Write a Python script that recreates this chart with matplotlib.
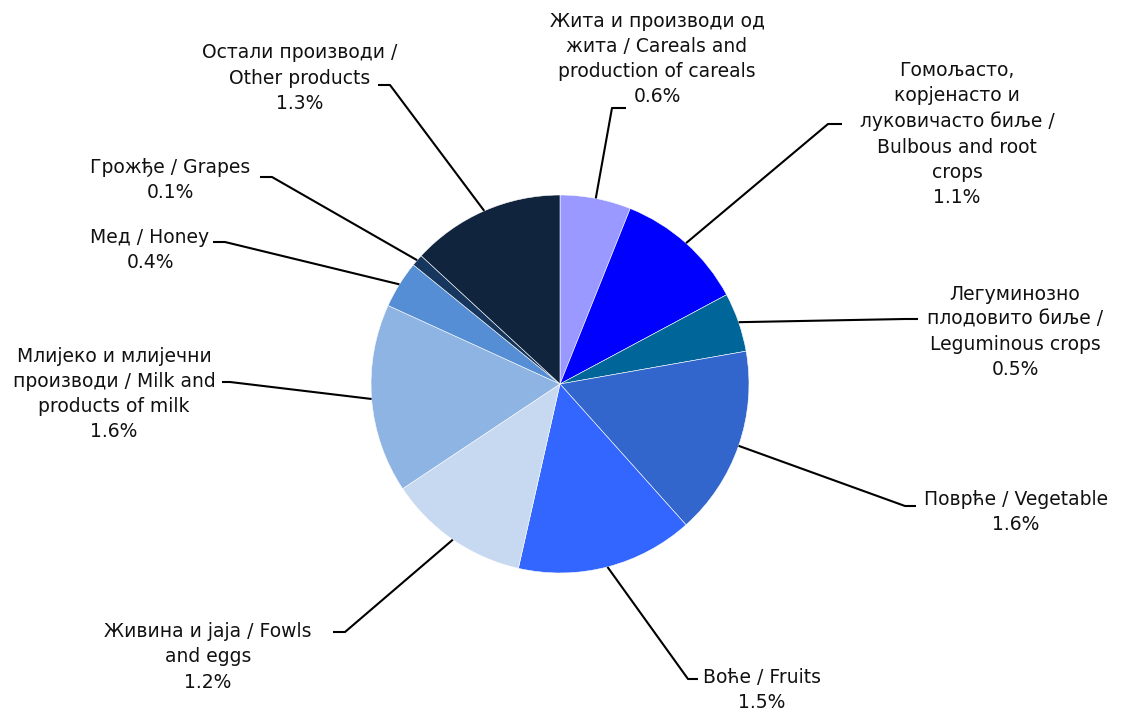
import numpy as np
import matplotlib
matplotlib.use("Agg")
from matplotlib import pyplot as plt

W, H = 1121, 712

labels = [
    "Жита и производи од\nжита / Careals and\nproduction of careals",
    "Гомољасто,\nкорјенасто и\nлуковичасто биље /\nBulbous and root\ncrops",
    "Легуминозно\nплодовито биље /\nLeguminous crops",
    "Поврће / Vegetable",
    "Воће / Fruits",
    "Живина и jaja / Fowls\nand eggs",
    "Млијеко и млијечни\nпроизводи / Milk and\nproducts of milk",
    "Мед / Honey",
    "Грожђе / Grapes",
    "Остали производи /\nOther products",
]
values = [0.6, 1.1, 0.5, 1.6, 1.5, 1.2, 1.6, 0.4, 0.1, 1.3]
colors = ["#9999FF", "#0000FF", "#006699", "#3366CC", "#3366FF",
          "#C6D9F1", "#8EB4E3", "#558ED5", "#17365D", "#10243E"]

# label block centre (image px), leader elbow, leader end
text_pos = [(657, 59), (957, 134), (1015, 332), (1016, 512), (762, 690),
            (208, 657), (114, 394), (150, 250), (170, 180), (300, 78)]
elbow = [(612, 108), (828, 124), (905, 319), (905, 506), (688, 679),
         (345, 632), (230, 382), (225, 242), (272, 177), (390, 85)]
tail = [(626, 108), (842, 124), (918, 319), (916, 506), (698, 679),
        (333, 632), (222, 382), (213, 242), (260, 177), (378, 85)]

cx, cy, r = 560, 384, 189

fig = plt.figure(figsize=(W / 100, H / 100), dpi=100)
ax = fig.add_axes([0, 0, 1, 1])

ax.pie(values, colors=colors, startangle=90, counterclock=False,
       center=(cx, H - cy), radius=r,
       wedgeprops=dict(edgecolor="white", linewidth=0.4))
ax.set_xlim(0, W)
ax.set_ylim(0, H)
ax.set_aspect("equal")
ax.axis("off")

total = sum(values)
cum = np.cumsum([0] + values)
for i, v in enumerate(values):
    mid = (cum[i] + v / 2) / total * 2 * np.pi
    ex = cx + r * np.sin(mid)
    ey = cy - r * np.cos(mid)
    xs = [ex, elbow[i][0], tail[i][0]]
    ys = [H - ey, H - elbow[i][1], H - tail[i][1]]
    ax.plot(xs, ys, color="black", lw=1.5, solid_capstyle="butt")
    tx, ty = text_pos[i]
    ax.text(tx, H - ty, labels[i] + "\n" + f"{v:.1f}%", ha="center", va="center",
            fontsize=13.5, family="DejaVu Sans", color="#111111", linespacing=1.42)

fig.savefig("out.png", dpi=100)
